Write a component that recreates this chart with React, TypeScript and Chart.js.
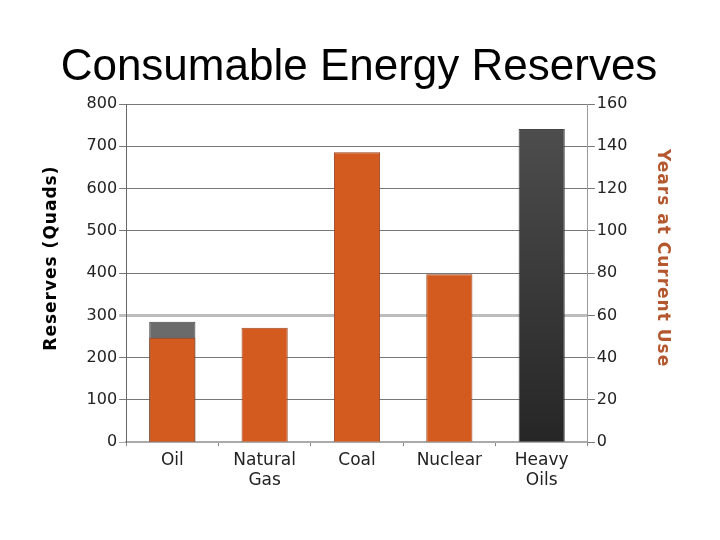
import React, { useEffect, useRef } from "react";
import { Chart, registerables } from "chart.js";

Chart.register(...registerables);

const categories: (string | string[])[] = ["Oil", ["Natural", "Gas"], "Coal", "Nuclear", ["Heavy", "Oils"]];
const reservesOrange: (number | null)[] = [247, 271, 686, 397, null];
const reservesGrey: (number | null)[] = [285, null, null, null, 741];
const leftTicks = [0, 100, 200, 300, 400, 500, 600, 700, 800];
const rightTicks = [0, 20, 40, 60, 80, 100, 120, 140, 160];
const titleText = "Consumable Energy Reserves";
const leftTitle = "Reserves (Quads)";
const rightTitle = "Years at Current Use";

const textPlugin = {
  id: "customTexts",
  afterDraw(chart: any) {
    const ctx = chart.ctx;
    ctx.save();
    ctx.font = "44px 'Liberation Sans', Arial, sans-serif";
    ctx.fillStyle = "#000";
    ctx.textAlign = "center";
    ctx.textBaseline = "middle";
    ctx.fillText(titleText, 359, 68);
    ctx.restore();

    const yS = chart.scales.y;
    const y1S = chart.scales.y1;
    const cy = (chart.chartArea.top + chart.chartArea.bottom) / 2 - 15;

    ctx.save();
    (ctx as any).letterSpacing = "1px";
    ctx.font = "bold 17px 'DejaVu Sans', Verdana, sans-serif";
    ctx.textAlign = "center";
    ctx.textBaseline = "middle";
    ctx.fillStyle = "#000";
    ctx.translate(52, cy);
    ctx.rotate(-Math.PI / 2);
    ctx.fillText(leftTitle, 0, 0);
    ctx.restore();

    ctx.save();
    (ctx as any).letterSpacing = "1px";
    ctx.font = "bold 17px 'DejaVu Sans', Verdana, sans-serif";
    ctx.textAlign = "center";
    ctx.textBaseline = "middle";
    ctx.fillStyle = "#b4572e";
    ctx.translate(662, cy);
    ctx.rotate(Math.PI / 2);
    ctx.fillText(rightTitle, 0, 0);
    ctx.restore();
    void yS; void y1S;
  },
};

export default function App() {
  const ref = useRef<HTMLCanvasElement>(null);
  useEffect(() => {
    const greyFill = (c: any) => {
      const chart = c.chart;
      const area = chart.chartArea;
      if (!area) return "#555";
      if (c.dataIndex === 0) return "#6b6b6b";
      const g = chart.ctx.createLinearGradient(0, area.top, 0, area.bottom);
      g.addColorStop(0, "#505050");
      g.addColorStop(1, "#262626");
      return g;
    };
    const chart = new Chart(ref.current!, {
      type: "bar",
      data: {
        labels: categories as any,
        datasets: [
          {
            label: "Reserves",
            data: reservesOrange,
            backgroundColor: "#d35b1f",
            borderColor: "#9a4420",
            borderWidth: 1,
            grouped: false,
            barPercentage: 0.5,
            categoryPercentage: 1,
            yAxisID: "y",
            order: 1,
          },
          {
            label: "Reserves grey",
            data: reservesGrey,
            backgroundColor: greyFill as any,
            borderColor: "#444",
            borderWidth: 1,
            grouped: false,
            barPercentage: 0.5,
            categoryPercentage: 1,
            yAxisID: "y",
            order: 2,
          },
        ],
      },
      options: {
        animation: false,
        responsive: true,
        maintainAspectRatio: false,
        layout: { padding: { top: 104, left: 41, right: 44, bottom: 45 } },
        plugins: { legend: { display: false }, title: { display: false }, tooltip: { enabled: false } },
        scales: {
          x: {
            offset: true,
            grid: {
              offset: true,
              drawOnChartArea: false,
              drawTicks: true,
              tickLength: 4,
              color: "#888",
            },
            border: { display: true, color: "#aaa", width: 2 },
            ticks: {
              color: "#222",
              font: { family: "'DejaVu Sans', Verdana, sans-serif", size: 17 },
              padding: 4,
              maxRotation: 0,
            },
          },
          y: {
            position: "left",
            min: 0,
            max: 800,
            afterBuildTicks: (a: any) => { a.ticks = leftTicks.map((v) => ({ value: v })); },
            grid: {
              color: (c: any) => (c.tick && c.tick.value === 300 ? "#bdbdbd" : c.tick && c.tick.value === 0 ? "#aaa" : "#777"),
              lineWidth: (c: any) => (c.tick && c.tick.value === 300 ? 3 : 1),
              tickLength: 7,
            },
            border: { display: true, color: "#666", width: 1 },
            ticks: {
              color: "#222",
              font: { family: "'DejaVu Sans', Verdana, sans-serif", size: 16 },
              padding: 2,
            },
            title: {
              display: true,
              text: leftTitle,
              color: "rgba(0,0,0,0)",
              font: { family: "'DejaVu Sans', Verdana, sans-serif", size: 18, weight: "bold" },
              padding: { top: 0, bottom: 22 },
            },
          },
          y1: {
            position: "right",
            min: 0,
            max: 160,
            afterBuildTicks: (a: any) => { a.ticks = rightTicks.map((v) => ({ value: v })); },
            grid: { drawOnChartArea: false, color: "#777", tickLength: 7 },
            border: { display: true, color: "#999", width: 1 },
            ticks: {
              color: "#222",
              font: { family: "'DejaVu Sans', Verdana, sans-serif", size: 16 },
              padding: 2,
            },
            title: {
              display: true,
              text: rightTitle,
              color: "rgba(0,0,0,0)",
              font: { family: "'DejaVu Sans', Verdana, sans-serif", size: 18, weight: "bold" },
              padding: { top: 0, bottom: 25 },
            },
          },
        },
      },
      plugins: [textPlugin],
    });
    return () => chart.destroy();
  }, []);
  return (
    <div style={{ position: "fixed", left: 0, top: 0, width: 720, height: 540, background: "#fff" }}>
      <canvas ref={ref} />
    </div>
  );
}
